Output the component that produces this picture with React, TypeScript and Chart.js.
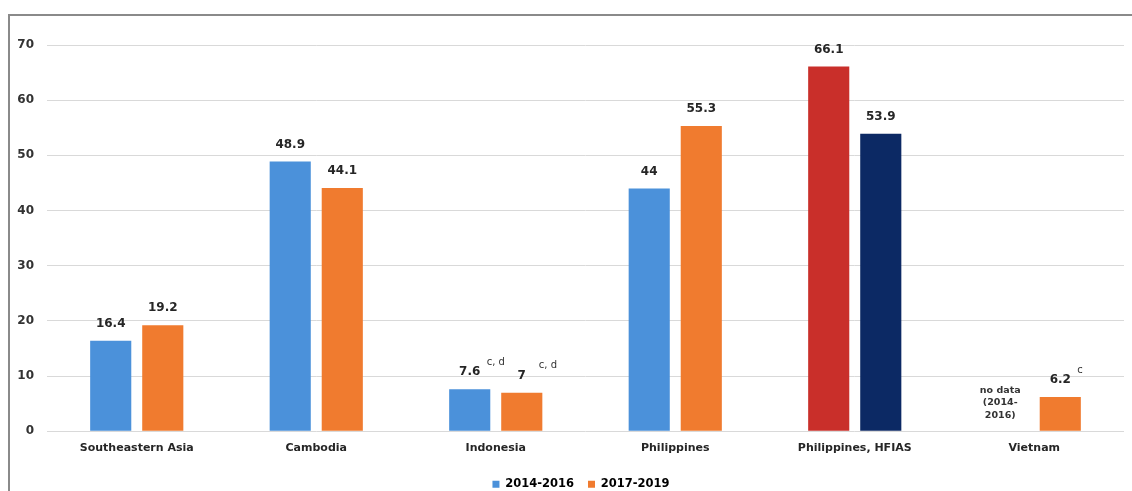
import React, { useEffect, useRef } from "react";
import { Chart, registerables } from "chart.js";

Chart.register(...registerables);

const categories = [
  "Southeastern Asia",
  "Cambodia",
  "Indonesia",
  "Philippines",
  "Philippines, HFIAS",
  "Vietnam",
];
const seriesNames = ["2014-2016", "2017-2019"];
const values2014: (number | null)[] = [16.4, 48.9, 7.6, 44, 66.1, null];
const values2017: (number | null)[] = [19.2, 44.1, 7, 55.3, 53.9, 6.2];
const notes2014 = ["", "", "c, d", "", "", ""];
const notes2017 = ["", "", "c, d", "", "", "c"];
const noDataLines = ["no data", "(2014-", "2016)"];
const yMin = 0;
const yMax = 70;
const yStep = 10;

const BLUE = "#4b91da";
const ORANGE = "#f07b2f";
const RED = "#c92f2a";
const NAVY = "#0c2964";
const colors2014 = [BLUE, BLUE, BLUE, BLUE, RED, BLUE];
const colors2017 = [ORANGE, ORANGE, ORANGE, ORANGE, NAVY, ORANGE];
const legendColors = [BLUE, ORANGE];

const FONT = "'DejaVu Sans', sans-serif";

const labelPlugin = {
  id: "barLabels",
  afterLayout(chart: any) {
    const lg = chart.legend;
    if (lg) {
      lg.left += 14;
      lg.right += 14;
    }
  },
  afterDatasetsDraw(chart: any) {
    const ctx = chart.ctx as CanvasRenderingContext2D;
    const notes = [notes2014, notes2017];
    chart.data.datasets.forEach((ds: any, di: number) => {
      const meta = chart.getDatasetMeta(di);
      meta.data.forEach((bar: any, i: number) => {
        const v = ds.data[i];
        if (v == null) return;
        const { x, y } = bar.getProps(["x", "y"], true);
        ctx.save();
        ctx.font = `bold 12px ${FONT}`;
        ctx.fillStyle = "#262626";
        ctx.textAlign = "center";
        ctx.textBaseline = "middle";
        ctx.fillText(String(v), x, y - 17);
        const note = notes[di][i];
        if (note) {
          ctx.font = `10px ${FONT}`;
          ctx.fillStyle = "#333";
          ctx.textAlign = "left";
          ctx.fillText(note, x + 17, y - 27);
        }
        ctx.restore();
      });
    });
    const m0 = chart.getDatasetMeta(0);
    const m1 = chart.getDatasetMeta(1);
    const slot = m1.data[0].x - m0.data[0].x;
    const y0 = chart.scales.y.getPixelForValue(0);
    values2014.forEach((v, i) => {
      if (v != null) return;
      const cx = m1.data[i].x - slot - 8;
      ctx.save();
      ctx.font = `bold 9.5px ${FONT}`;
      ctx.fillStyle = "#333";
      ctx.textAlign = "center";
      ctx.textBaseline = "middle";
      noDataLines.forEach((line, li) => {
        ctx.fillText(line, cx, y0 - 41 + li * 12.5);
      });
      ctx.restore();
    });
  },
};

export default function App() {
  const canvasRef = useRef<HTMLCanvasElement | null>(null);

  useEffect(() => {
    const canvas = canvasRef.current;
    if (!canvas) return;
    const chart = new Chart(canvas, {
      type: "bar",
      data: {
        labels: categories,
        datasets: [
          {
            label: seriesNames[0],
            data: values2014 as any,
            backgroundColor: colors2014,
            categoryPercentage: 0.58,
            barPercentage: 0.79,
          },
          {
            label: seriesNames[1],
            data: values2017 as any,
            backgroundColor: colors2017,
            categoryPercentage: 0.58,
            barPercentage: 0.79,
          },
        ],
      },
      options: {
        animation: false,
        responsive: true,
        maintainAspectRatio: false,
        layout: { padding: { left: 0, right: 8, top: 29, bottom: 0 } },
        plugins: {
          tooltip: { enabled: false },
          legend: {
            position: "bottom",
            labels: {
              boxWidth: 7,
              boxHeight: 7,
              padding: 14,
              color: "#333",
              font: { family: FONT, size: 11.5, weight: "bold" },
              generateLabels: () =>
                seriesNames.map((name, i) => ({
                  text: name,
                  fillStyle: legendColors[i],
                  strokeStyle: legendColors[i],
                  lineWidth: 0,
                  hidden: false,
                  datasetIndex: i,
                })),
            },
          },
        },
        scales: {
          x: {
            grid: { display: false, drawTicks: false },
            border: { display: false },
            ticks: {
              color: "#262626",
              padding: 10,
              font: { family: FONT, size: 11, weight: "bold" },
            },
          },
          y: {
            min: yMin,
            max: yMax,
            afterFit: (scale: any) => {
              scale.width = 37;
            },
            grid: { color: "#d9d9d9", drawTicks: false },
            border: { display: false },
            ticks: {
              stepSize: yStep,
              padding: 13,
              color: "#333",
              font: { family: FONT, size: 12, weight: "bold" },
            },
          },
        },
      },
      plugins: [labelPlugin],
    });
    return () => chart.destroy();
  }, []);

  return (
    <div
      style={{
        position: "fixed",
        left: 8,
        top: 14,
        width: 1124,
        height: 486,
        borderTop: "2px solid #8a8a8a",
        borderLeft: "2px solid #8a8a8a",
        boxSizing: "border-box",
        background: "#fff",
      }}
    >
      <div style={{ position: "relative", width: 1122, height: 484 }}>
        <canvas ref={canvasRef} />
      </div>
    </div>
  );
}
